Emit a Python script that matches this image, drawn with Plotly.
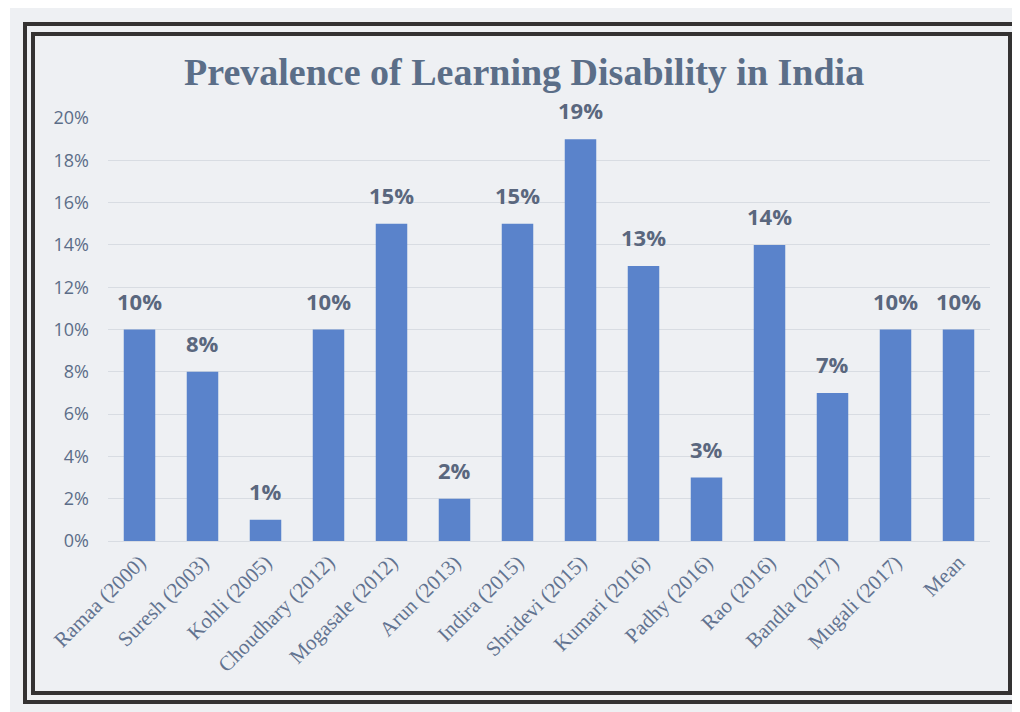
import plotly.graph_objects as go

studies = ["Ramaa (2000)", "Suresh (2003)", "Kohli (2005)", "Choudhary (2012)",
           "Mogasale (2012)", "Arun (2013)", "Indira (2015)", "Shridevi (2015)",
           "Kumari (2016)", "Padhy (2016)", "Rao (2016)", "Bandla (2017)",
           "Mugali (2017)", "Mean"]
prevalence = [0.10, 0.08, 0.01, 0.10, 0.15, 0.02, 0.15, 0.19, 0.13, 0.03, 0.14, 0.07, 0.10, 0.10]
y_ticks = [0, 0.02, 0.04, 0.06, 0.08, 0.10, 0.12, 0.14, 0.16, 0.18, 0.20]
title_text = "Prevalence of Learning Disability in India"

OFF = 8  # page body margin
W, H = 1020 - OFF, 712 - OFF
L, R, T, B = 108 - OFF, 990 - OFF, 118 - OFF, 541 - OFF


def px(x):
    return (x - OFF - L) / (R - L)


def py(y):
    return (B - (y - OFF)) / (B - T)


fig = go.Figure(go.Bar(
    x=studies, y=prevalence,
    marker=dict(color="#5a83cb", line=dict(width=0)),
    width=0.5,
    cliponaxis=False,
))

shapes = [
    dict(type="rect", xref="paper", yref="paper", layer="below",
         x0=px(10), x1=px(1020), y0=py(6), y1=py(712),
         fillcolor="#eef0f3", line=dict(width=0)),
    dict(type="rect", xref="paper", yref="paper", layer="below",
         x0=px(25), x1=px(1016), y0=py(24), y1=py(702),
         line=dict(color="#343232", width=4)),
    dict(type="rect", xref="paper", yref="paper", layer="below",
         x0=px(33), x1=px(1010), y0=py(34), y1=py(693),
         line=dict(color="#343232", width=4)),
]

annotations = [dict(
    text=f"<b>{title_text}</b>", xref="paper", yref="paper",
    x=px(524), y=py(72), xanchor="center", yanchor="middle", showarrow=False,
    font=dict(family="Liberation Serif, serif", size=38, color="#5b6e88"))]

for s, v in zip(studies, prevalence):
    annotations.append(dict(
        x=s, y=v, xref="x", yref="y", text=f"<b>{v:.0%}</b>",
        showarrow=False, xanchor="center", yanchor="bottom", yshift=12,
        font=dict(family="Open Sans, Liberation Sans, sans-serif", size=22, color="#5a677e"),
    ))

fig.update_layout(
    width=W, height=H,
    margin=dict(l=L, r=W - R, t=T, b=H - B, pad=0),
    paper_bgcolor="white",
    plot_bgcolor="rgba(0,0,0,0)",
    showlegend=False,
    shapes=shapes,
    annotations=annotations,
    xaxis=dict(
        tickangle=-45, showgrid=False, showline=False, zeroline=False,
        tickfont=dict(family="Liberation Serif, serif", size=21, color="#627390"),
        ticks="", automargin=False, ticklabelstandoff=4,
    ),
    yaxis=dict(
        range=[0, 0.2], tickvals=y_ticks, tickformat=".0%",
        showgrid=True, gridcolor="#d8dce2", gridwidth=1,
        zeroline=True, zerolinecolor="#d8dce2", zerolinewidth=1,
        showline=False, ticks="", automargin=False,
        tickfont=dict(family="Open Sans, Liberation Sans, sans-serif", size=18, color="#5c6d88"),
        ticklabelstandoff=18,
    ),
)

fig.write_html("out.html")
